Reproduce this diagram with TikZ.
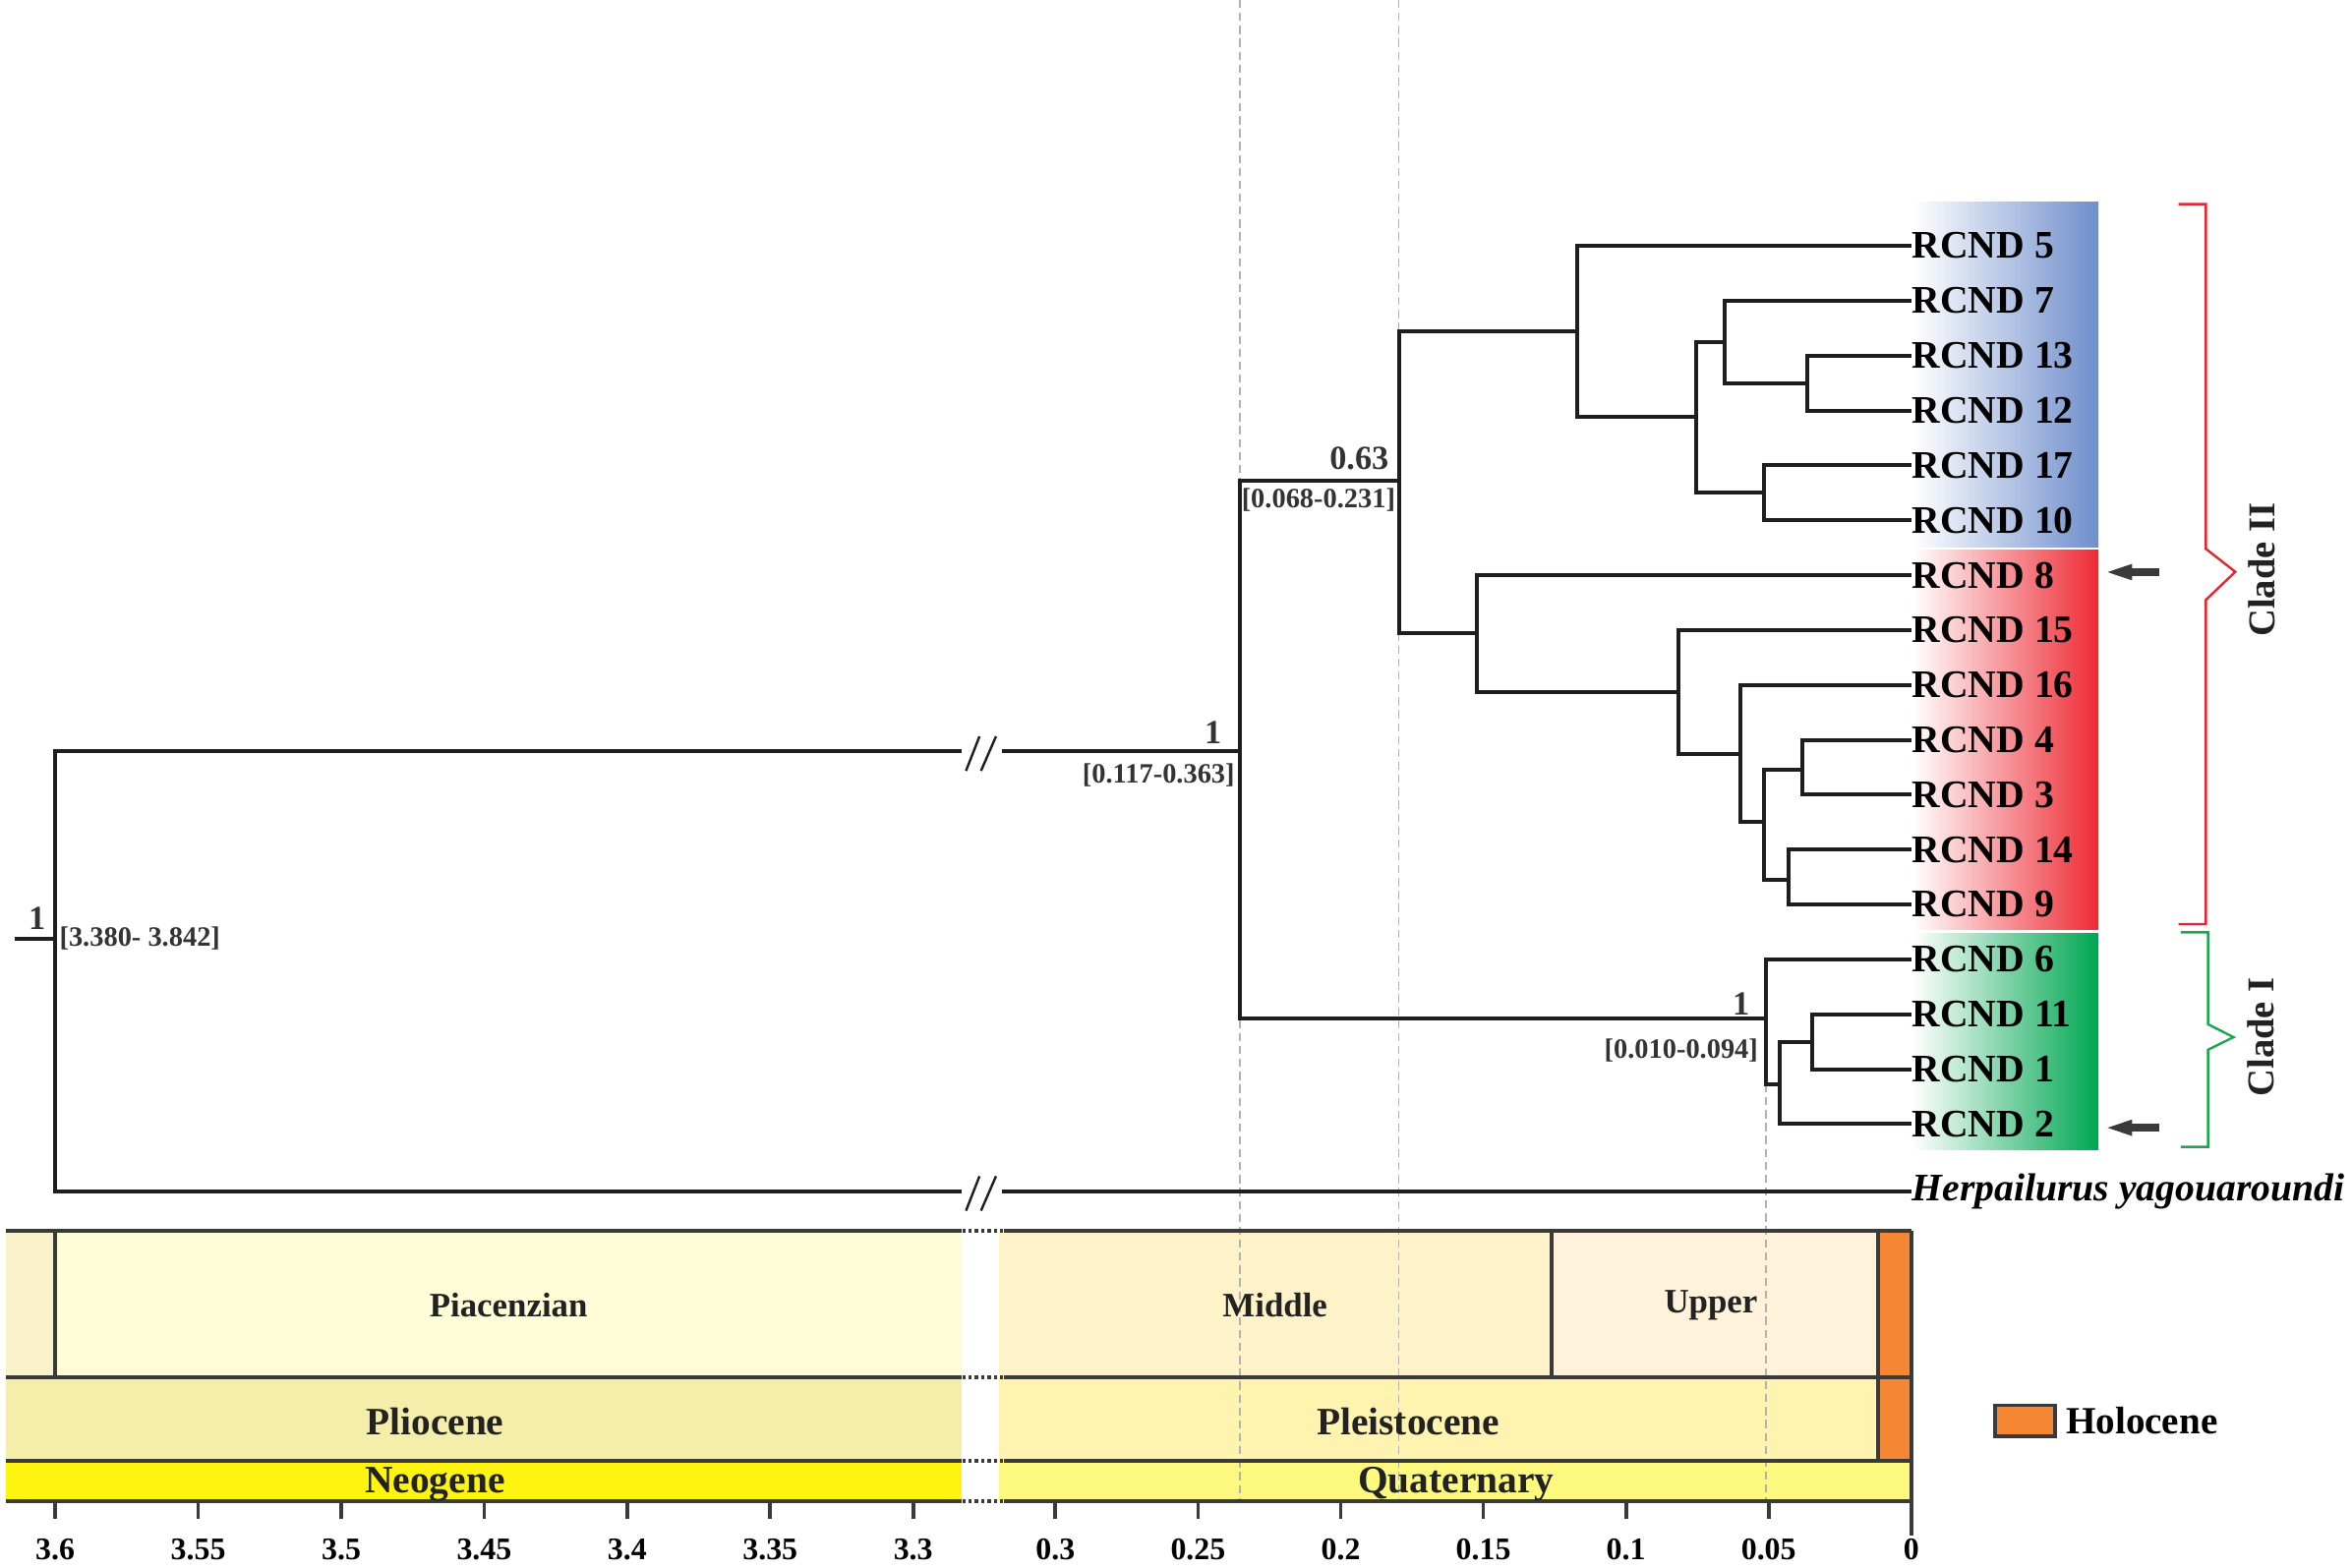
\documentclass[tikz,border=0pt]{standalone}
\usepackage{fontspec}
\setmainfont{Liberation Serif}
\usetikzlibrary{arrows.meta,calc}
\definecolor{treegray}{HTML}{1E1E1E}
\definecolor{suppgray}{HTML}{333333}
\definecolor{labgray}{HTML}{222222}
\definecolor{bordgray}{HTML}{3A3A3A}
\definecolor{arrowgray}{HTML}{3A3A3A}
\definecolor{cladeBlue}{HTML}{6F8ECC}
\definecolor{cladeRed}{HTML}{EE2A34}
\definecolor{cladeGreen}{HTML}{00A651}
\definecolor{brRed}{HTML}{E5262D}
\definecolor{brGreen}{HTML}{1CA650}
\definecolor{zancl}{HTML}{F8F1C9}
\definecolor{piac}{HTML}{FFFDD8}
\definecolor{plio}{HTML}{F5EDAA}
\definecolor{neog}{HTML}{FFF310}
\definecolor{midp}{HTML}{FEF2C8}
\definecolor{uppp}{HTML}{FEF3DA}
\definecolor{pleis}{HTML}{FEF4B0}
\definecolor{quat}{HTML}{FCF97E}
\definecolor{holo}{HTML}{F58634}
\tikzset{
  phylo/.style={line width=0.75pt, draw=treegray},
  leaf/.style={anchor=west, inner sep=0pt, font=\bfseries\fontsize{7.4}{8}\selectfont},
  outgroup/.style={anchor=base west, inner sep=0pt, font=\bfseries\itshape\fontsize{7.4}{8}\selectfont},
  supp/.style={anchor=base east, inner sep=0pt, text=suppgray, font=\bfseries\fontsize{6.4}{7}\selectfont},
  hpd/.style={anchor=base east, inner sep=0pt, text=suppgray, font=\bfseries\fontsize{5.3}{6}\selectfont},
  stagelab/.style={anchor=base, inner sep=0pt, text=labgray, font=\bfseries\fontsize{6.5}{7}\selectfont},
  epochlab/.style={anchor=base, inner sep=0pt, text=labgray, font=\bfseries\fontsize{7.35}{8}\selectfont},
  ticklab/.style={anchor=base, inner sep=0pt, font=\bfseries\fontsize{5.95}{6}\selectfont},
  guide/.style={draw=gray!60, line width=0.35pt, dash pattern=on 1.55pt off 0.9pt},
  border/.style={draw=bordgray, line width=0.7pt},
  gapdot/.style={draw=bordgray, line width=0.7pt, dash pattern=on 0.6pt off 0.6pt},
  pointer/.style={draw=arrowgray, line width=0.52mm, -{Triangle[length=1.97mm,width=0.9mm]}},
  slash/.style={draw=treegray, line width=0.45pt},
  cladelab/.style={rotate=90, inner sep=0pt, text=labgray, font=\bfseries\fontsize{7.2}{8}\selectfont},
}
\begin{document}
\begin{tikzpicture}[x=0.1mm,y=-0.1mm]
\useasboundingbox (0,0) rectangle (1568,1045);

% ---------- clade shading boxes ----------
\shade[left color=white, right color=cladeBlue] (1275,134.4) rectangle (1399,365);
\shade[left color=white, right color=cladeRed] (1275,366.5) rectangle (1399,620);
\shade[left color=white, right color=cladeGreen] (1275,622.3) rectangle (1399,766.5);

% ---------- time scale fills ----------
\fill[zancl] (3.7,820.5) rectangle (36.8,918.4);
\fill[piac] (36.8,820.5) rectangle (640.9,918.4);
\fill[plio] (3.7,918.4) rectangle (640.9,974.1);
\fill[neog] (3.7,974.1) rectangle (640.9,1001.2);
\fill[midp] (666,820.5) rectangle (1034.3,918.4);
\fill[uppp] (1034.3,820.5) rectangle (1252.1,918.4);
\fill[holo] (1252.1,820.5) rectangle (1274.5,974.1);
\fill[pleis] (666,918.4) rectangle (1252.1,974.1);
\fill[quat] (666,974.1) rectangle (1274.5,1001.2);

% guide lines
\draw[guide] (826.4,0) -- (826.4,1001.2);
\draw[guide] (932.5,0) -- (932.5,1001.2);
\draw[guide] (1177.2,723) -- (1177.2,1001.2);

% borders
\foreach \yy in {820.5,918.4,974.1,1001.2}{
  \draw[border] (3.7,\yy) -- (640.9,\yy);
  \draw[border] (669.5,\yy) -- (1274.5,\yy);
  \draw[gapdot] (641.5,\yy) -- (669.5,\yy);
}
\draw[border] (36.8,820.5) -- (36.8,918.4);
\draw[border] (1034.3,820.5) -- (1034.3,918.4);
\draw[border] (1252.1,820.5) -- (1252.1,974.1);
\draw[border] (1274.5,820.5) -- (1274.5,1001.2);

% time scale labels
\node[stagelab] (piacenzian) at (339,878) {Piacenzian};
\node[epochlab] (pliocene) at (290,956.6) {Pliocene};
\node[epochlab] (neogene) at (290,995.3) {Neogene};
\node[stagelab] (middle) at (850,878) {Middle};
\node[stagelab] (upper) at (1140.6,875.5) {Upper};
\node[epochlab] (pleistocene) at (938.8,956.6) {Pleistocene};
\node[epochlab] (quaternary) at (970.7,995.3) {Quaternary};

% ticks
\foreach \t [count=\i] in {3.6,3.55,3.5,3.45,3.4,3.35,3.3}{
  \pgfmathsetmacro{\xx}{36.8+(3.6-\t)*1906.6}
  \draw[border] (\xx,1001.2) -- (\xx,1013);
  \node[ticklab] (tkL\i) at (\xx,1040) {\t};
}
\foreach \t [count=\i] in {0.3,0.25,0.2,0.15,0.1,0.05}{
  \pgfmathsetmacro{\xx}{1274.2-1902*\t}
  \draw[border] (\xx,1001.2) -- (\xx,1013);
  \node[ticklab] (tkR\i) at (\xx,1040) {\t};
}
\draw[border] (1274.5,1001.2) -- (1274.5,1024);
\node[ticklab] (tkZero) at (1274.2,1040) {0};

% legend
\draw[border, fill=holo] (1330,937) rectangle (1370,957.5);
\node[anchor=base west, inner sep=0pt, font=\bfseries\fontsize{7.3}{8}\selectfont] (holocene) at (1376.6,956) {Holocene};

% ---------- tree coordinates ----------
\coordinate (stub) at (10,626);
\coordinate (root) at (37,626);
\coordinate (bk1) at (641,501);
\coordinate (bk2) at (668,501);
\coordinate (bk3) at (641,794.3);
\coordinate (bk4) at (668,794.3);
\coordinate (hend) at (1274,794.3);
\coordinate (A) at (826.4,501);
\coordinate (B) at (932.5,320.8);
\coordinate (C) at (1051.7,220.7);
\coordinate (D) at (1130.7,278.2);
\coordinate (E) at (1149.8,228.3);
\coordinate (F) at (1205,255.7);
\coordinate (G) at (1176.3,328.4);
\coordinate (H) at (984.6,422);
\coordinate (I) at (1118.8,461.5);
\coordinate (J) at (1160,502.6);
\coordinate (K) at (1176.3,548);
\coordinate (L) at (1201.8,513.5);
\coordinate (M) at (1192.7,586.8);
\coordinate (N) at (1177.2,679);
\coordinate (O) at (1186.3,723);
\coordinate (P) at (1208.3,694.9);

% leaves
\node[leaf] (l5) at (1274,163.9) {RCND 5};
\node[leaf] (l7) at (1274,200.5) {RCND 7};
\node[leaf] (l13) at (1274,237.1) {RCND 13};
\node[leaf] (l12) at (1274,273.7) {RCND 12};
\node[leaf] (l17) at (1274,310.3) {RCND 17};
\node[leaf] (l10) at (1274,346.9) {RCND 10};
\node[leaf] (l8) at (1274,383.5) {RCND 8};
\node[leaf] (l15) at (1274,420.1) {RCND 15};
\node[leaf] (l16) at (1274,456.7) {RCND 16};
\node[leaf] (l4) at (1274,493.3) {RCND 4};
\node[leaf] (l3) at (1274,529.9) {RCND 3};
\node[leaf] (l14) at (1274,566.5) {RCND 14};
\node[leaf] (l9) at (1274,603.1) {RCND 9};
\node[leaf] (l6) at (1274,639.7) {RCND 6};
\node[leaf] (l11) at (1274,676.3) {RCND 11};
\node[leaf] (l1) at (1274,712.9) {RCND 1};
\node[leaf] (l2) at (1274,749.5) {RCND 2};
\node[outgroup] (herp) at (1274,800.4) {Herpailurus yagouaroundi};

% branches
\draw[phylo] (stub) -- (root);
\draw[phylo] (root) |- (bk1);
\draw[phylo] (bk2) -- (A);
\draw[phylo] (root) |- (bk3);
\draw[phylo] (bk4) -- (hend);
\draw[phylo] (A) |- (B);
\draw[phylo] (A) |- (N);
\draw[phylo] (B) |- (C);
\draw[phylo] (B) |- (H);
\draw[phylo] (C) |- (l5.west);
\draw[phylo] (C) |- (D);
\draw[phylo] (D) |- (E);
\draw[phylo] (D) |- (G);
\draw[phylo] (E) |- (l7.west);
\draw[phylo] (E) |- (F);
\draw[phylo] (F) |- (l13.west);
\draw[phylo] (F) |- (l12.west);
\draw[phylo] (G) |- (l17.west);
\draw[phylo] (G) |- (l10.west);
\draw[phylo] (H) |- (l8.west);
\draw[phylo] (H) |- (I);
\draw[phylo] (I) |- (l15.west);
\draw[phylo] (I) |- (J);
\draw[phylo] (J) |- (l16.west);
\draw[phylo] (J) |- (K);
\draw[phylo] (K) |- (L);
\draw[phylo] (K) |- (M);
\draw[phylo] (L) |- (l4.west);
\draw[phylo] (L) |- (l3.west);
\draw[phylo] (M) |- (l14.west);
\draw[phylo] (M) |- (l9.west);
\draw[phylo] (N) |- (l6.west);
\draw[phylo] (N) |- (O);
\draw[phylo] (O) |- (P);
\draw[phylo] (O) |- (l2.west);
\draw[phylo] (P) |- (l11.west);
\draw[phylo] (P) |- (l1.west);

% break marks
\foreach \bk in {bk1,bk3}{
  \draw[slash] ($(\bk)+(3,13)$) -- ($(\bk)+(12,-10)$);
  \draw[slash] ($(\bk)+(13,13)$) -- ($(\bk)+(23,-10)$);
}

% support values
\node[supp] (sRoot) at (31,620) {1};
\node[hpd, anchor=base west] (hRoot) at (39,631) {[3.380- 3.842]};
\node[supp] (sA) at (815,496) {1};
\node[hpd] (hA) at (823.8,522.2) {[0.117-0.363]};
\node[supp] (sB) at (926.5,312.9) {0.63};
\node[hpd] (hB) at (930.9,338.3) {[0.068-0.231]};
\node[supp] (sN) at (1167,677) {1};
\node[hpd] (hN) at (1172.7,705.8) {[0.010-0.094]};

% arrows
\coordinate (a8t) at (1439.5,381.5);
\coordinate (a8h) at (1401.7,381.5);
\coordinate (a2t) at (1439.5,752);
\coordinate (a2h) at (1401.7,752);
\draw[pointer] (a8t) -- (a8h);
\draw[pointer] (a2t) -- (a2h);

% clade brackets
\draw[brRed, line width=0.45pt] (1452.4,136.1) -- (1470.6,136.1) -- (1470.6,366) -- (1490.2,381.3) -- (1470.6,400) -- (1470.6,616.2) -- (1452.4,616.2);
\draw[brGreen, line width=0.45pt] (1453.8,621.7) -- (1472,621.7) -- (1472,683) -- (1489,691.6) -- (1472,700) -- (1472,764.8) -- (1453.8,764.8);
\node[cladelab] (c2) at (1507.7,380) {Clade II};
\node[cladelab] (c1) at (1507,691.5) {Clade I};
\end{tikzpicture}
\end{document}
